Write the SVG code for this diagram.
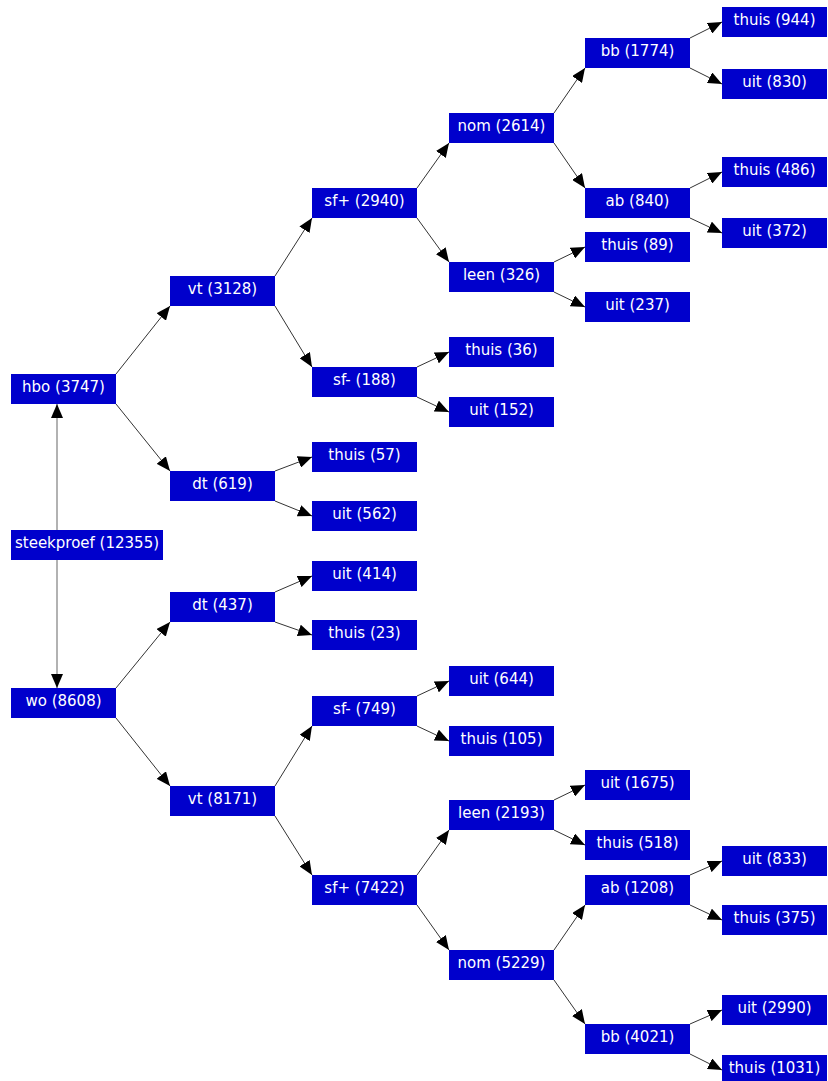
<svg xmlns="http://www.w3.org/2000/svg" width="828" height="1081" viewBox="0 0 828 1081">
<style>
.n rect{fill:#0000CC}
.n text{fill:#ffffff;font-family:"DejaVu Sans",sans-serif;font-size:15px;text-anchor:middle}
.e line{stroke:#333333;stroke-width:1;marker-end:url(#a)}
.e line.v{stroke:#999999;stroke-width:1.5}
</style>
<defs>
<marker id="a" viewBox="0 0 14 12" refX="14" refY="6" markerWidth="14" markerHeight="12" markerUnits="userSpaceOnUse" orient="auto"><path d="M0,0 L14,6 L0,12 z" fill="#000"/></marker>
</defs>
<rect width="828" height="1081" fill="#fff"/>
<g id="connectors" class="e">
<line class="v" x1="57" y1="530" x2="57" y2="404"/>
<line class="v" x1="57" y1="560" x2="57" y2="688"/>
<line x1="116" y1="374" x2="170" y2="306"/>
<line x1="116" y1="404" x2="170" y2="471"/>
<line x1="275" y1="276" x2="312" y2="218"/>
<line x1="275" y1="306" x2="312" y2="367"/>
<line x1="417" y1="188" x2="449" y2="143"/>
<line x1="417" y1="218" x2="449" y2="262"/>
<line x1="554" y1="113" x2="585" y2="68"/>
<line x1="554" y1="143" x2="585" y2="188"/>
<line x1="690" y1="38" x2="722" y2="22"/>
<line x1="690" y1="68" x2="722" y2="84"/>
<line x1="690" y1="188" x2="722" y2="172"/>
<line x1="690" y1="218" x2="722" y2="233"/>
<line x1="554" y1="262" x2="585" y2="247"/>
<line x1="554" y1="292" x2="585" y2="307"/>
<line x1="417" y1="367" x2="449" y2="352"/>
<line x1="417" y1="397" x2="449" y2="412"/>
<line x1="275" y1="471" x2="312" y2="457"/>
<line x1="275" y1="501" x2="312" y2="516"/>
<line x1="116" y1="688" x2="170" y2="622"/>
<line x1="116" y1="718" x2="170" y2="786"/>
<line x1="275" y1="592" x2="312" y2="576"/>
<line x1="275" y1="622" x2="312" y2="635"/>
<line x1="275" y1="786" x2="312" y2="726"/>
<line x1="275" y1="816" x2="312" y2="875"/>
<line x1="417" y1="696" x2="449" y2="681"/>
<line x1="417" y1="726" x2="449" y2="741"/>
<line x1="417" y1="875" x2="449" y2="830"/>
<line x1="417" y1="905" x2="449" y2="950"/>
<line x1="554" y1="800" x2="585" y2="785"/>
<line x1="554" y1="830" x2="585" y2="845"/>
<line x1="554" y1="950" x2="585" y2="905"/>
<line x1="554" y1="980" x2="585" y2="1024"/>
<line x1="690" y1="875" x2="722" y2="861"/>
<line x1="690" y1="905" x2="722" y2="920"/>
<line x1="690" y1="1024" x2="722" y2="1010"/>
<line x1="690" y1="1054" x2="722" y2="1070"/>
</g>
<g id="steekproef" class="n"><rect x="11" y="530" width="152" height="30"/><text x="87" y="548">steekproef (12355)</text></g>
<g id="hbo" class="n"><rect x="11" y="374" width="105" height="30"/><text x="63.5" y="392">hbo (3747)</text></g>
<g id="wo" class="n"><rect x="11" y="688" width="105" height="30"/><text x="63.5" y="706">wo (8608)</text></g>
<g id="hbo_vt" class="n"><rect x="170" y="276" width="105" height="30"/><text x="222.5" y="294">vt (3128)</text></g>
<g id="hbo_dt" class="n"><rect x="170" y="471" width="105" height="30"/><text x="222.5" y="489">dt (619)</text></g>
<g id="hbo_vt_sfp" class="n"><rect x="312" y="188" width="105" height="30"/><text x="364.5" y="206">sf+ (2940)</text></g>
<g id="hbo_vt_sfm" class="n"><rect x="312" y="367" width="105" height="30"/><text x="364.5" y="385">sf- (188)</text></g>
<g id="hbo_dt_thuis" class="n"><rect x="312" y="442" width="105" height="30"/><text x="364.5" y="460">thuis (57)</text></g>
<g id="hbo_dt_uit" class="n"><rect x="312" y="501" width="105" height="30"/><text x="364.5" y="519">uit (562)</text></g>
<g id="hbo_nom" class="n"><rect x="449" y="113" width="105" height="30"/><text x="501.5" y="131">nom (2614)</text></g>
<g id="hbo_leen" class="n"><rect x="449" y="262" width="105" height="30"/><text x="501.5" y="280">leen (326)</text></g>
<g id="hbo_sfm_thuis" class="n"><rect x="449" y="337" width="105" height="30"/><text x="501.5" y="355">thuis (36)</text></g>
<g id="hbo_sfm_uit" class="n"><rect x="449" y="397" width="105" height="30"/><text x="501.5" y="415">uit (152)</text></g>
<g id="hbo_bb" class="n"><rect x="585" y="38" width="105" height="30"/><text x="637.5" y="56">bb (1774)</text></g>
<g id="hbo_ab" class="n"><rect x="585" y="188" width="105" height="30"/><text x="637.5" y="206">ab (840)</text></g>
<g id="hbo_leen_thuis" class="n"><rect x="585" y="232" width="105" height="30"/><text x="637.5" y="250">thuis (89)</text></g>
<g id="hbo_leen_uit" class="n"><rect x="585" y="292" width="105" height="30"/><text x="637.5" y="310">uit (237)</text></g>
<g id="hbo_bb_thuis" class="n"><rect x="722" y="7" width="105" height="30"/><text x="774.5" y="25">thuis (944)</text></g>
<g id="hbo_bb_uit" class="n"><rect x="722" y="69" width="105" height="30"/><text x="774.5" y="87">uit (830)</text></g>
<g id="hbo_ab_thuis" class="n"><rect x="722" y="157" width="105" height="30"/><text x="774.5" y="175">thuis (486)</text></g>
<g id="hbo_ab_uit" class="n"><rect x="722" y="218" width="105" height="30"/><text x="774.5" y="236">uit (372)</text></g>
<g id="wo_dt" class="n"><rect x="170" y="592" width="105" height="30"/><text x="222.5" y="610">dt (437)</text></g>
<g id="wo_vt" class="n"><rect x="170" y="786" width="105" height="30"/><text x="222.5" y="804">vt (8171)</text></g>
<g id="wo_dt_uit" class="n"><rect x="312" y="561" width="105" height="30"/><text x="364.5" y="579">uit (414)</text></g>
<g id="wo_dt_thuis" class="n"><rect x="312" y="620" width="105" height="30"/><text x="364.5" y="638">thuis (23)</text></g>
<g id="wo_vt_sfm" class="n"><rect x="312" y="696" width="105" height="30"/><text x="364.5" y="714">sf- (749)</text></g>
<g id="wo_vt_sfp" class="n"><rect x="312" y="875" width="105" height="30"/><text x="364.5" y="893">sf+ (7422)</text></g>
<g id="wo_sfm_uit" class="n"><rect x="449" y="666" width="105" height="30"/><text x="501.5" y="684">uit (644)</text></g>
<g id="wo_sfm_thuis" class="n"><rect x="449" y="726" width="105" height="30"/><text x="501.5" y="744">thuis (105)</text></g>
<g id="wo_leen" class="n"><rect x="449" y="800" width="105" height="30"/><text x="501.5" y="818">leen (2193)</text></g>
<g id="wo_nom" class="n"><rect x="449" y="950" width="105" height="30"/><text x="501.5" y="968">nom (5229)</text></g>
<g id="wo_leen_uit" class="n"><rect x="585" y="770" width="105" height="30"/><text x="637.5" y="788">uit (1675)</text></g>
<g id="wo_leen_thuis" class="n"><rect x="585" y="830" width="105" height="30"/><text x="637.5" y="848">thuis (518)</text></g>
<g id="wo_ab" class="n"><rect x="585" y="875" width="105" height="30"/><text x="637.5" y="893">ab (1208)</text></g>
<g id="wo_bb" class="n"><rect x="585" y="1024" width="105" height="30"/><text x="637.5" y="1042">bb (4021)</text></g>
<g id="wo_ab_uit" class="n"><rect x="722" y="846" width="105" height="30"/><text x="774.5" y="864">uit (833)</text></g>
<g id="wo_ab_thuis" class="n"><rect x="722" y="905" width="105" height="30"/><text x="774.5" y="923">thuis (375)</text></g>
<g id="wo_bb_uit" class="n"><rect x="722" y="995" width="105" height="30"/><text x="774.5" y="1013">uit (2990)</text></g>
<g id="wo_bb_thuis" class="n"><rect x="722" y="1055" width="105" height="30"/><text x="774.5" y="1073">thuis (1031)</text></g>
</svg>
